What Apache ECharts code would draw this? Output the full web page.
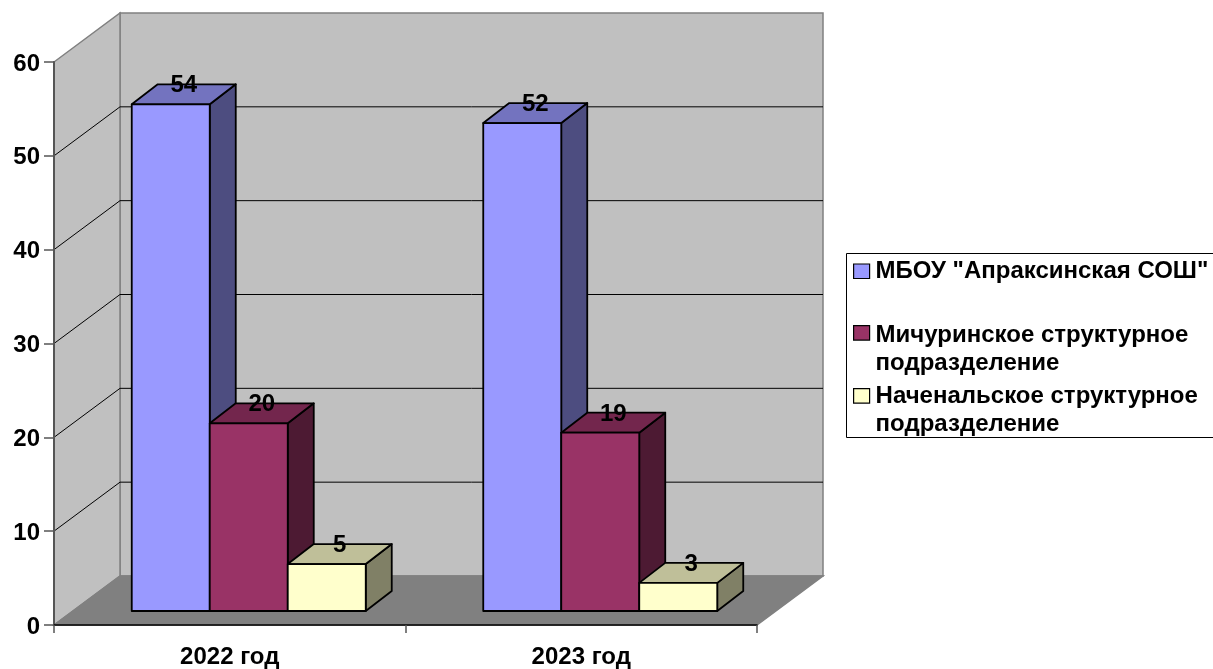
<!DOCTYPE html>
<html><head><meta charset="utf-8">
<style>html,body{margin:0;padding:0;background:#fff}#c{width:1213px;height:669px}</style>
<script src="https://cdn.jsdelivr.net/npm/echarts@6/dist/echarts.min.js"></script>
</head><body><div id="c"></div>
<script>
var categories = ['2022 год', '2023 год'];
var seriesNames = ['МБОУ "Апраксинская СОШ"', 'Мичуринское структурное\nподразделение', 'Наченальское структурное\nподразделение'];
var school = [54, 52];
var michurinsk = [20, 19];
var primary = [5, 3];
var yTicks = [0, 10, 20, 30, 40, 50, 60];

var FONT = '"Liberation Sans", Arial, sans-serif';
var WALL = {x: 66, y: -49};     // depth of the chart box
var BAR_OFF = {x: 19, y: -14};  // bars' front plane inside the box
var BAR_D = {x: 26, y: -20};    // bar depth
var BAR_W = 78;
var faces = [
  {front: '#9999FF', side: '#4D4D80', top: '#7373BF'},
  {front: '#993366', side: '#4D1A33', top: '#73264D'},
  {front: '#FFFFCC', side: '#808066', top: '#BFBF99'}
];

function wallsItem(params, api) {
  var o = api.coord([0, 0]), size = api.size([1, 0]);
  var x0 = o[0] - size[0] / 2, yB = o[1];
  var yT = api.coord([0, 60])[1];
  var x1 = x0 + size[0] * 2;
  var dx = WALL.x, dy = WALL.y;
  var edge = {stroke: '#808080', lineWidth: 1.5};
  var kids = [
    {type: 'polygon', shape: {points: [[x0 + dx, yT + dy], [x1 + dx, yT + dy], [x1 + dx, yB + dy], [x0 + dx, yB + dy]]}, style: Object.assign({fill: '#C0C0C0'}, edge)},
    {type: 'polygon', shape: {points: [[x0, yT], [x0 + dx, yT + dy], [x0 + dx, yB + dy], [x0, yB]]}, style: Object.assign({fill: '#C0C0C0'}, edge)},
    {type: 'polygon', shape: {points: [[x0, yB], [x0 + dx, yB + dy], [x1 + dx, yB + dy], [x1, yB]]}, style: Object.assign({fill: '#808080'}, edge)}
  ];
  yTicks.forEach(function (t) {
    if (t === 0 || t === 60) return;
    var y = api.coord([0, t])[1];
    kids.push({type: 'polyline', shape: {points: [[x0, y], [x0 + dx, y + dy], [x1 + dx, y + dy]]}, style: {stroke: '#000', lineWidth: 1, fill: null}});
  });
  return {type: 'group', children: kids, silent: true};
}

function barRenderer(idx) {
  return function (params, api) {
    var cat = api.value(0), val = api.value(1);
    var c = api.coord([cat, val]), b = api.coord([cat, 0]);
    var xl = c[0] + BAR_OFF.x + (idx - 1.5) * BAR_W, xr = xl + BAR_W;
    var yt = c[1] + BAR_OFF.y, yb = b[1] + BAR_OFF.y;
    var dx = BAR_D.x, dy = BAR_D.y, f = faces[idx];
    var line = {stroke: '#000', lineWidth: 1.8, lineJoin: 'round'};
    return {type: 'group', children: [
      {type: 'polygon', z2: 1, shape: {points: [[xr, yt], [xr + dx, yt + dy], [xr + dx, yb + dy], [xr, yb]]}, style: Object.assign({fill: f.side}, line)},
      {type: 'polygon', z2: 1, shape: {points: [[xl, yt], [xl + dx, yt + dy], [xr + dx, yt + dy], [xr, yt]]}, style: Object.assign({fill: f.top}, line)},
      {type: 'rect', z2: 1, shape: {x: xl, y: yt, width: BAR_W, height: yb - yt}, style: Object.assign({fill: f.front}, line)},
      {type: 'text', z2: 10, style: {x: (xl + xr) / 2 + dx / 2, y: yt + dy + 1.5, text: String(val), fill: '#000', font: 'bold 24px ' + FONT, align: 'center', verticalAlign: 'middle'}}
    ]};
  };
}

function toData(values) { return values.map(function (v, i) { return [i, v]; }); }
function mkSeries(i, values) {
  return {type: 'custom', name: seriesNames[i], renderItem: barRenderer(i), data: toData(values),
    coordinateSystem: 'cartesian2d', itemStyle: {color: faces[i].front}, encode: {x: 0, y: 1}, clip: false, z: 3 + i};
}
function mkLegend(i, top, h, iconTop) {
  return {data: [seriesNames[i]], left: 853, top: top, orient: 'vertical', padding: 0, selectedMode: false,
    itemWidth: 16, itemHeight: h, itemGap: 0,
    icon: 'path://M0 ' + iconTop + 'H16V' + (iconTop + 14.5) + 'H0Z M0 0 M16 ' + h,
    itemStyle: {borderColor: '#000', borderWidth: 1.2},
    textStyle: {color: '#000', fontFamily: FONT, fontWeight: 'bold', fontSize: 24, lineHeight: 28, padding: [0, 0, 0, 1]}};
}

var chart = echarts.init(document.getElementById('c'), null, {renderer: 'canvas'});
chart.setOption({
  animation: false,
  backgroundColor: '#fff',
  grid: {left: 54, right: 456, top: 62, bottom: 44},
  xAxis: {type: 'category', data: categories, boundaryGap: true, z: 8,
    axisLine: {show: true, onZero: false, lineStyle: {color: '#000', width: 1.5}},
    axisTick: {show: true, length: 8, lineStyle: {color: '#555', width: 1.5}},
    axisLabel: {color: '#000', fontFamily: FONT, fontWeight: 'bold', fontSize: 24, margin: 20},
    splitLine: {show: false}},
  yAxis: {type: 'value', min: 0, max: 60, interval: 10, z: 8,
    axisLine: {show: true, lineStyle: {color: '#555', width: 2}},
    axisTick: {show: true, length: 10, lineStyle: {color: '#555', width: 1.5}},
    axisLabel: {margin: 14, formatter: '{a|{value}}',
      rich: {a: {color: '#000', fontFamily: FONT, fontWeight: 'bold', fontSize: 24, padding: [4, 0, 0, 0]}}},
    splitLine: {show: false}},
  legend: [mkLegend(0, 257, 16, 1), mkLegend(1, 320.5, 56, 4.5), mkLegend(2, 382, 56, 6)],
  graphic: [{type: 'rect', z: 0, silent: true, shape: {x: 846.5, y: 253.5, width: 400, height: 184}, style: {fill: '#fff', stroke: '#000', lineWidth: 1}}],
  series: [
    {type: 'custom', name: 'walls', renderItem: wallsItem, data: [[0, 0]], encode: {x: 0, y: 1}, clip: false, silent: true, z: 1},
    mkSeries(0, school), mkSeries(1, michurinsk), mkSeries(2, primary)
  ]
});
</script></body></html>
